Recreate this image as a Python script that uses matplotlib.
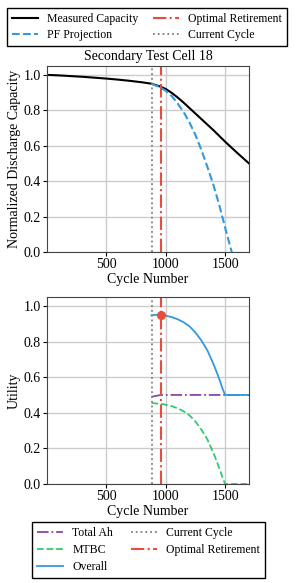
import matplotlib
matplotlib.use("Agg")
import matplotlib.pyplot as plt
import numpy as np

plt.rcParams['font.family'] = ['Liberation Serif', 'DejaVu Serif']
plt.rcParams['font.size'] = 10
plt.rcParams['mathtext.fontset'] = 'stix'

# ---- data ----
meas_cycles = [0, 100, 200, 300, 400, 500, 600, 700, 800, 880, 950, 1000, 1050, 1100, 1150, 1200, 1300, 1400, 1500, 1600, 1700]
meas_cap    = [1.0, 0.997, 0.993, 0.989, 0.984, 0.979, 0.973, 0.966, 0.958, 0.950, 0.935, 0.920, 0.898, 0.872, 0.843, 0.812, 0.750, 0.688, 0.622, 0.560, 0.500]

pf_cycles = [880, 950, 1000, 1050, 1100, 1150, 1200, 1250, 1300, 1350, 1400, 1450, 1500, 1530, 1555]
pf_cap    = [0.950, 0.930, 0.910, 0.880, 0.838, 0.790, 0.730, 0.660, 0.575, 0.480, 0.380, 0.265, 0.135, 0.060, 0.0]

util_cycles = [880, 920, 957, 1000, 1050, 1100, 1150, 1200, 1250, 1300, 1350, 1400, 1430, 1460, 1480, 1500, 1600, 1700]
total_ah    = [0.490, 0.495, 0.500, 0.500, 0.500, 0.500, 0.500, 0.500, 0.500, 0.500, 0.500, 0.500, 0.500, 0.500, 0.500, 0.500, 0.500, 0.500]
mtbc        = [0.455, 0.452, 0.450, 0.445, 0.437, 0.425, 0.408, 0.385, 0.350, 0.305, 0.250, 0.175, 0.125, 0.070, 0.030, 0.0, 0.0, 0.0]
overall     = [0.948, 0.950, 0.950, 0.945, 0.937, 0.925, 0.908, 0.885, 0.850, 0.805, 0.750, 0.675, 0.625, 0.570, 0.530, 0.500, 0.500, 0.500]

current_cycle = 880
optimal_retirement = 957
optimal_utility = 0.950

x_ticks = [500, 1000, 1500]
y_ticks = [0.0, 0.2, 0.4, 0.6, 0.8, 1.0]

BLACK = 'black'
BLUE = '#3498db'
RED = '#e74c3c'
GREY = '#7f7f7f'
PURPLE = '#8e44ad'
GREEN = '#2ecc71'

W, H = 296, 583
fig = plt.figure(figsize=(W / 100, H / 100), dpi=100)

ax1 = fig.add_axes([47 / W, 1 - 252 / H, 202 / W, 186 / H])
ax2 = fig.add_axes([47 / W, 1 - 484 / H, 202 / W, 187 / H])

for ax in (ax1, ax2):
    ax.set_xlim(0, 1700)
    ax.set_ylim(0, 1.05)
    ax.set_xticks(x_ticks)
    ax.set_yticks(y_ticks)
    ax.grid(True, color='#cccccc', linewidth=1.0)
    ax.set_axisbelow(True)
    for s in ax.spines.values():
        s.set_color('#444444')
        s.set_linewidth(0.8)
    ax.tick_params(labelsize=10, length=3, width=0.8, pad=1.5)
    ax.set_xlabel('Cycle Number', fontsize=10, labelpad=1)

h_meas, = ax1.plot(meas_cycles, meas_cap, color=BLACK, lw=1.5, label='Measured Capacity')
h_pf, = ax1.plot(pf_cycles, pf_cap, color=BLUE, lw=1.5, ls='--', label='PF Projection')
h_cur = ax1.axvline(current_cycle, color=GREY, lw=1.3, ls=':', label='Current Cycle')
h_opt = ax1.axvline(optimal_retirement, color=RED, lw=1.5, ls='-.', label='Optimal Retirement')
ax1.set_ylabel('Normalized Discharge Capacity', fontsize=10, labelpad=2)
ax1.set_title('Secondary Test Cell 18', fontsize=10, pad=4)

fig.legend([h_meas, h_pf, h_opt, h_cur],
           ['Measured Capacity', 'PF Projection', 'Optimal Retirement', 'Current Cycle'],
           ncol=2, loc='upper left', bbox_to_anchor=(7 / W, 1 - 8 / H), borderaxespad=0,
           fancybox=False, edgecolor='black', framealpha=1, fontsize=8.5,
           handlelength=2.2, columnspacing=1.2, borderpad=0.4, labelspacing=0.4)

h_ah, = ax2.plot(util_cycles, total_ah, color=PURPLE, lw=1.3, ls='-.', label='Total Ah')
h_mt, = ax2.plot(util_cycles, mtbc, color=GREEN, lw=1.3, ls='--', label='MTBC')
h_ov, = ax2.plot(util_cycles, overall, color=BLUE, lw=1.3, label='Overall')
h_cur2 = ax2.axvline(current_cycle, color=GREY, lw=1.3, ls=':', label='Current Cycle')
h_opt2 = ax2.axvline(optimal_retirement, color=RED, lw=1.5, ls='-.', label='Optimal Retirement')
ax2.plot([optimal_retirement], [optimal_utility], 'o', color=RED, ms=5.5, zorder=5)
ax2.set_ylabel('Utility', fontsize=10, labelpad=2)

fig.legend([h_ah, h_mt, h_ov, h_cur2, h_opt2],
           ['Total Ah', 'MTBC', 'Overall', 'Current Cycle', 'Optimal Retirement'],
           ncol=2, loc='upper left', bbox_to_anchor=(32 / W, 1 - 522 / H), borderaxespad=0,
           fancybox=False, edgecolor='black', framealpha=1, fontsize=8.5,
           handlelength=2.2, columnspacing=1.5, borderpad=0.4, labelspacing=0.45)

fig.savefig('out.png', dpi=100)
